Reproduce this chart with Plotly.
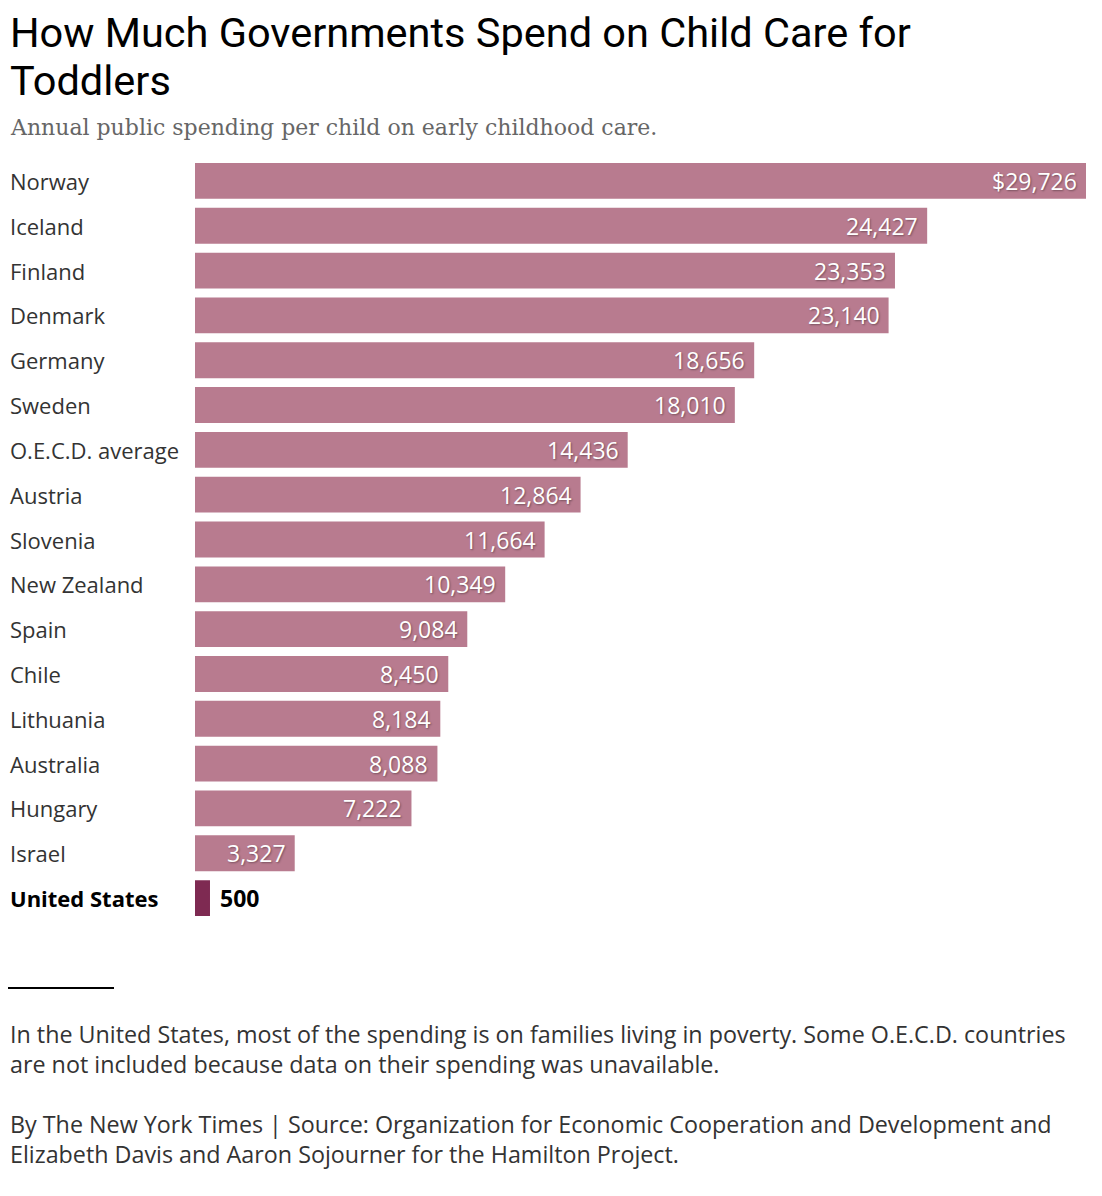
import plotly.graph_objects as go

# --- DATOS ---
paises = ["Norway", "Iceland", "Finland", "Denmark", "Germany", "Sweden",
          "O.E.C.D. average", "Austria", "Slovenia", "New Zealand", "Spain",
          "Chile", "Lithuania", "Australia", "Hungary", "Israel", "United States"]
gasto = [29726, 24427, 23353, 23140, 18656, 18010, 14436, 12864, 11664,
         10349, 9084, 8450, 8184, 8088, 7222, 3327, 500]
etiquetas = ["$29,726", "24,427", "23,353", "23,140", "18,656", "18,010",
             "14,436", "12,864", "11,664", "10,349", "9,084", "8,450",
             "8,184", "8,088", "7,222", "3,327", "500"]

# la página deja 8px de margen en el body: todo se mide en px de la captura
OFF = 8
W, H = 1102 - 2 * OFF, 1196 - 2 * OFF
COLOR_BARRA = "#b87b8f"
COLOR_US = "#7e2a52"
TITULO = "Roboto, 'Liberation Sans', Arial, sans-serif"
SANS = "'Open Sans', 'Liberation Sans', Arial, sans-serif"
SERIF = "'DejaVu Serif', Georgia, serif"


def px(x):
    return max(0, (x - OFF) / W)


def py(y):
    return 1 - (y - OFF) / H


def texto(y, t, fuente, size, color):
    fig.add_annotation(
        x=0, xref="paper", y=py(y), yref="paper", text=t,
        showarrow=False, xanchor="left", yanchor="top", align="left",
        font=dict(family=fuente, size=size, color=color),
    )


resaltado = "United States"
colores = [COLOR_US if p == resaltado else COLOR_BARRA for p in paises]

fig = go.Figure()
fig.add_trace(go.Bar(
    x=gasto,
    y=list(range(len(paises))),
    orientation="h",
    marker=dict(color=colores, line=dict(width=0)),
    hoverinfo="skip",
))

# etiquetas de país y de valor
for i, (p, v, t) in enumerate(zip(paises, gasto, etiquetas)):
    destacado = p == resaltado
    fig.add_annotation(
        x=0, xref="paper", y=i, yref="y",
        text=f"<b>{p}</b>" if destacado else p,
        showarrow=False, xanchor="left", yanchor="middle",
        font=dict(family=SANS, size=22,
                  color="#000000" if destacado else "#333333"),
    )
    if destacado:
        fig.add_annotation(
            x=v, xref="x", y=i, yref="y", text=f"<b>{t}</b>",
            showarrow=False, xanchor="left", yanchor="middle", xshift=8,
            font=dict(family=SANS, size=23, color="#000000"),
        )
    else:
        fig.add_annotation(
            x=v, xref="x", y=i, yref="y", text=t,
            showarrow=False, xanchor="right", yanchor="middle", xshift=-7,
            font=dict(family=SANS, size=23, color="#ffffff",
                      shadow="1px 1px 2px rgba(0,0,0,0.35)"),
        )

# título y subtítulo
texto(6, "How Much Governments Spend on Child Care for", TITULO, 41.5, "#000000")
texto(54, "Toddlers", TITULO, 41.5, "#000000")
texto(113, "Annual public spending per child on early childhood care.", SERIF, 22, "#666666")

# notas
texto(1016,
      "In the United States, most of the spending is on families living in poverty. Some O.E.C.D. countries<br>"
      "are not included because data on their spending was unavailable.",
      SANS, 23.3, "#333333")
texto(1106,
      "By The New York Times | Source: Organization for Economic Cooperation and Development and<br>"
      "Elizabeth Davis and Aaron Sojourner for the Hamilton Project.",
      SANS, 23.3, "#333333")
fig.add_shape(type="line", xref="paper", yref="paper",
              x0=0, x1=px(114), y0=py(988), y1=py(988),
              line=dict(color="#000000", width=2))

fig.update_layout(
    width=W, height=H,
    margin=dict(l=0, r=0, t=0, b=0),
    paper_bgcolor="white", plot_bgcolor="white",
    showlegend=False,
    bargap=0.2,
    font=dict(family=SANS),
)
fig.update_xaxes(domain=[px(195), px(1086)], range=[0, max(gasto)],
                 visible=False, showgrid=False, zeroline=False)
fig.update_yaxes(domain=[py(920.5), py(158.5)],
                 range=[len(paises) - 0.5, -0.5],
                 visible=False, showgrid=False, zeroline=False)

fig.write_html("out.html")
